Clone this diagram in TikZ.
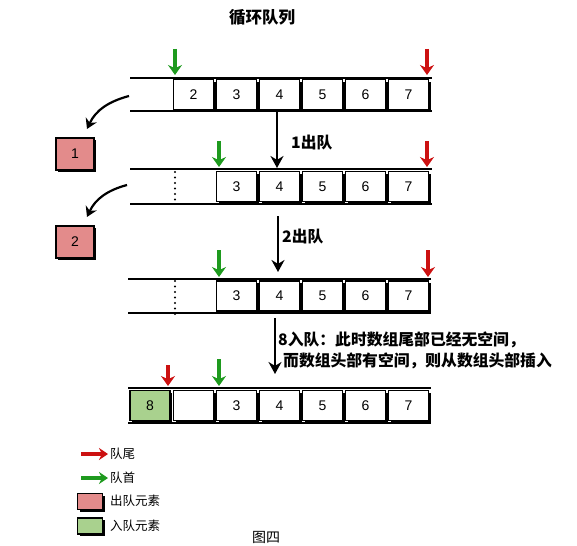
\documentclass[tikz,border=0pt]{standalone}
\usepackage{fontspec}
\setmainfont{Liberation Sans}
\newfontfamily\cjk{Noto Sans CJK SC}
\usetikzlibrary{arrows.meta,shadows}
\definecolor{pinkbox}{HTML}{E38B8B}
\definecolor{greenbox}{HTML}{A9D18E}
\definecolor{arrred}{HTML}{CC1111}
\definecolor{arrgreen}{HTML}{1E9A1E}
\begin{document}
\begin{tikzpicture}[x=1pt,y=-1pt,
  cell/.style={draw, line width=1.4pt, fill=white, minimum width=40pt, minimum height=30pt, inner sep=0pt,
    font=\fontsize{14}{14}\selectfont,
    drop shadow={shadow xshift=2.2pt, shadow yshift=-2.2pt, fill=black, opacity=1}},
  pinkcell/.style={cell, fill=pinkbox},
  greencell/.style={cell, fill=greenbox},
  legbox/.style={draw, line width=1.4pt, minimum width=25pt, minimum height=16pt, inner sep=0pt,
    drop shadow={shadow xshift=2.2pt, shadow yshift=-2.2pt, fill=black, opacity=1}},
  rail/.style={line width=2.8pt},
  dots/.style={line width=2.4pt, line cap=round, dash pattern=on 0pt off 5.5pt},
  redarr/.style={draw=arrred, line width=3.5pt, -{Stealth[length=10pt,width=14pt]}},
  greenarr/.style={draw=arrgreen, line width=3.5pt, -{Stealth[length=10pt,width=14pt]}},
  downarr/.style={line width=2.2pt, -{Stealth[length=12pt,width=13pt]}},
  curvarr/.style={line width=2.2pt, -{Stealth[length=10pt,width=12pt]}},
  lbl/.style={font=\cjk\bfseries\fontsize{15.8}{18}\selectfont, anchor=west, inner sep=0pt},
  leg/.style={font=\cjk\fontsize{12.5}{14}\selectfont, anchor=west, inner sep=0pt}
]
\clip (0,0) rectangle (577,545);

% title
\node[font=\cjk\bfseries\fontsize{16.5}{17}\selectfont] (title) at (262,17) {循环队列};

% ---------- row 1 ----------
\coordinate (r1tl) at (130,78); \coordinate (r1tr) at (432,78);
\coordinate (r1bl) at (130,111); \coordinate (r1br) at (432,111);
\draw[rail] (r1tl) -- (r1tr);
\draw[rail] (r1bl) -- (r1br);
\foreach \v [count=\k from 0] in {2,...,7}
  \node[cell] (r1c\v) at (193.5+43*\k,94.5) {\v};
\coordinate (g1s) at (175,49); \coordinate (g1e) at (175,75);
\draw[greenarr] (g1s) -- (g1e);
\coordinate (rd1s) at (427,49); \coordinate (rd1e) at (427,75);
\draw[redarr] (rd1s) -- (rd1e);

% ---------- row 2 ----------
\coordinate (r2tl) at (130,169); \coordinate (r2tr) at (432,169);
\coordinate (r2bl) at (130,204); \coordinate (r2br) at (432,204);
\draw[rail] (r2tl) -- (r2tr);
\draw[rail] (r2bl) -- (r2br);
\coordinate (d2t) at (175,172); \coordinate (d2b) at (175,204);
\draw[dots] (d2t) -- (d2b);
\foreach \v [count=\k from 0] in {3,...,7}
  \node[cell] (r2c\v) at (236.5+43*\k,186.5) {\v};
\coordinate (g2s) at (219,141); \coordinate (g2e) at (219,167);
\draw[greenarr] (g2s) -- (g2e);
\coordinate (rd2s) at (427,141); \coordinate (rd2e) at (427,167);
\draw[redarr] (rd2s) -- (rd2e);

% ---------- row 3 ----------
\coordinate (r3tl) at (128,279); \coordinate (r3tr) at (431,279);
\coordinate (r3bl) at (128,313); \coordinate (r3br) at (431,313);
\draw[rail] (r3tl) -- (r3tr);
\draw[rail] (r3bl) -- (r3br);
\coordinate (d3t) at (175,281); \coordinate (d3b) at (175,314);
\draw[dots] (d3t) -- (d3b);
\foreach \v [count=\k from 0] in {3,...,7}
  \node[cell] (r3c\v) at (236.5+43*\k,296) {\v};
\coordinate (g3s) at (219,250); \coordinate (g3e) at (219,277);
\draw[greenarr] (g3s) -- (g3e);
\coordinate (rd3s) at (428,250); \coordinate (rd3e) at (428,277);
\draw[redarr] (rd3s) -- (rd3e);

% ---------- row 4 ----------
\coordinate (r4tl) at (128,388); \coordinate (r4tr) at (431,388);
\coordinate (r4bl) at (128,423); \coordinate (r4br) at (431,423);
\draw[rail] (r4tl) -- (r4tr);
\draw[rail] (r4bl) -- (r4br);
\node[greencell] (r4c8) at (150,405.5) {8};
\node[cell] (r4e) at (193.5,405.5) {};
\foreach \v [count=\k from 0] in {3,...,7}
  \node[cell] (r4c\v) at (236.5+43*\k,405.5) {\v};
\coordinate (rd4s) at (168,365); \coordinate (rd4e) at (168,386);
\draw[redarr] (rd4s) -- (rd4e);
\coordinate (g4s) at (219,359); \coordinate (g4e) at (219,386);
\draw[greenarr] (g4s) -- (g4e);

% ---------- down arrows with labels ----------
\coordinate (a1s) at (277,112); \coordinate (a1e) at (277,168);
\draw[downarr] (a1s) -- (a1e);
\node[lbl] (l1) at (291,143) {1出队};
\coordinate (a2s) at (278,216); \coordinate (a2e) at (278,272);
\draw[downarr] (a2s) -- (a2e);
\node[lbl] (l2) at (282,237) {2出队};
\coordinate (a3s) at (275,318); \coordinate (a3e) at (275,374);
\draw[downarr] (a3s) -- (a3e);
\node[lbl] (l3a) at (278,340) {8入队：此时数组尾部已经无空间，};
\node[lbl] (l3b) at (283,361) {而数组头部有空间，则从数组头部插入};

% ---------- dequeued elements ----------
\node[pinkcell, minimum width=38pt, minimum height=32pt] (out1) at (75,154) {1};
\node[pinkcell, minimum width=38pt, minimum height=32pt] (out2) at (75,242) {2};
\coordinate (c1s) at (129,96); \coordinate (c1e) at (87,129);
\draw[curvarr] (c1s) to[out=195,in=65] (c1e);
\coordinate (c2s) at (127,185); \coordinate (c2e) at (87,217);
\draw[curvarr] (c2s) to[out=195,in=65] (c2e);

% ---------- legend ----------
\coordinate (lr1) at (81,454); \coordinate (lr2) at (108,454);
\draw[redarr, -{Stealth[length=9pt,width=12pt]}] (lr1) -- (lr2);
\node[leg] (t1) at (110,454) {队尾};
\coordinate (lg1) at (81,478); \coordinate (lg2) at (108,478);
\draw[greenarr, -{Stealth[length=9pt,width=12pt]}] (lg1) -- (lg2);
\node[leg] (t2) at (110,478) {队首};
\node[legbox, fill=pinkbox] (b1) at (90,501.5) {};
\node[leg] (t3) at (110,501) {出队元素};
\node[legbox, fill=greenbox] (b2) at (90,526) {};
\node[leg] (t4) at (110,526) {入队元素};

\node[font=\cjk\fontsize{14}{14}\selectfont] (cap) at (266,537) {图四};
\end{tikzpicture}
\end{document}
